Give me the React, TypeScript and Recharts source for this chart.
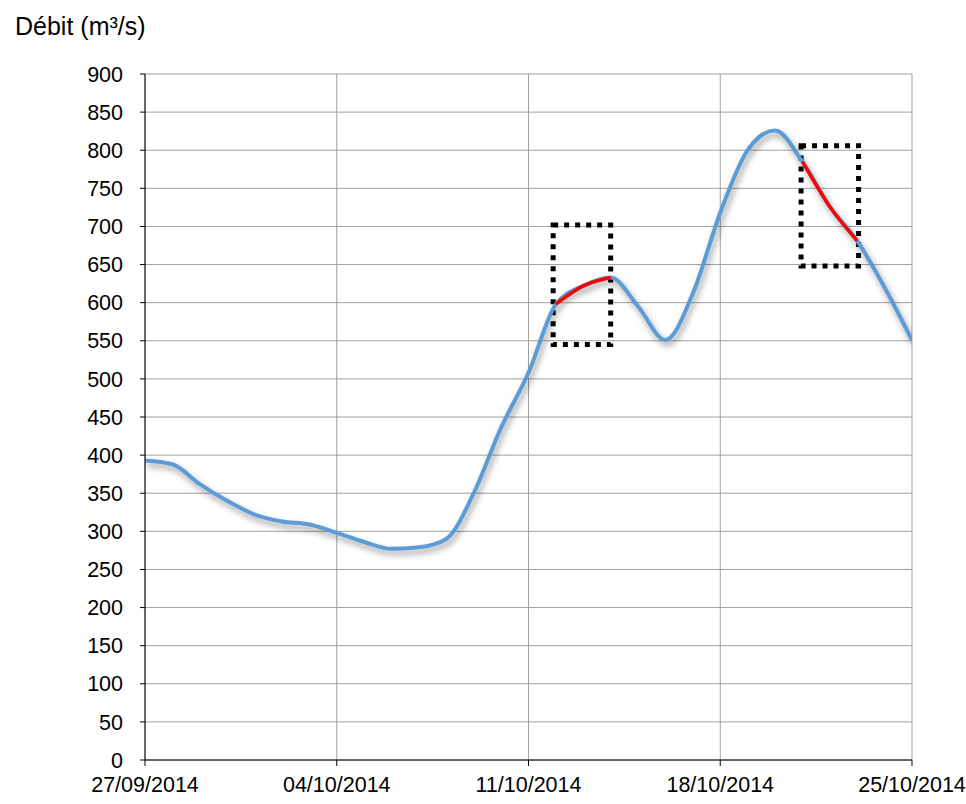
import React from "react";
import {
  LineChart,
  Line,
  XAxis,
  YAxis,
  CartesianGrid,
  ReferenceArea,
} from "recharts";

// Daily river flow, 27/09/2014 → 25/10/2014 (m3/s)
const dates = [
  "27/09/2014", "28/09/2014", "29/09/2014", "30/09/2014", "01/10/2014",
  "02/10/2014", "03/10/2014", "04/10/2014", "05/10/2014", "06/10/2014",
  "07/10/2014", "08/10/2014", "09/10/2014", "10/10/2014", "11/10/2014",
  "12/10/2014", "13/10/2014", "14/10/2014", "15/10/2014", "16/10/2014",
  "17/10/2014", "18/10/2014", "19/10/2014", "20/10/2014", "21/10/2014",
  "22/10/2014", "23/10/2014", "24/10/2014", "25/10/2014",
];

const flow = [
  393, 388, 362, 340, 322, 313, 309, 298, 286, 277,
  279, 290, 350, 436, 508, 598, 622, 633, 595, 551,
  612, 718, 800, 826, 785, 726, 681, 620, 551,
];

// day-index ranges drawn in red
const highlightRanges = [
  [15, 17],
  [24, 26],
];

// dotted frames around the highlighted stretches (day index / m3/s)
const frames = [
  { x1: 14.9, x2: 17, y1: 545, y2: 702 },
  { x1: 23.95, x2: 26.05, y1: 648, y2: 806 },
];

const xTicks = [0, 7, 14, 21, 28];
const yTicks = [
  0, 50, 100, 150, 200, 250, 300, 350, 400, 450,
  500, 550, 600, 650, 700, 750, 800, 850, 900,
];

const data = flow.map((v, i) => {
  const row: Record<string, number | string | null> = {
    day: i,
    date: dates[i],
    flow: v,
  };
  highlightRanges.forEach(([a, b], k) => {
    row[`hl${k}`] = i >= a && i <= b ? v : null;
  });
  return row;
});

const FONT = '"Liberation Sans", Arial, sans-serif';
const tickStyle = { fontSize: 21.5, fill: "#000", fontFamily: FONT };

export default function App() {
  return (
    <div
      style={{
        position: "absolute",
        left: 0,
        top: 0,
        width: 966,
        height: 800,
        fontFamily: FONT,
        background: "#fff",
      }}
    >
      <div
        style={{
          position: "absolute",
          left: 15,
          top: 14,
          fontSize: 25,
          lineHeight: "25px",
          color: "#000",
          whiteSpace: "nowrap",
        }}
      >
        Débit (m³/s)
      </div>
      <LineChart
        width={966}
        height={800}
        data={data}
        margin={{ top: 74, right: 54, bottom: 0, left: 0 }}
      >
        <defs>
          <filter id="lineShadow" x="-5%" y="-5%" width="110%" height="120%">
            <feDropShadow
              dx="2"
              dy="4"
              stdDeviation="3"
              floodColor="#000"
              floodOpacity="0.4"
            />
          </filter>
        </defs>
        <CartesianGrid stroke="#a0a0a0" strokeWidth={1} />
        <XAxis
          dataKey="day"
          type="number"
          domain={[0, 28]}
          ticks={xTicks}
          tickFormatter={(d: number) => dates[d]}
          tick={tickStyle}
          tickSize={6}
          tickMargin={11}
          height={40}
          axisLine={{ stroke: "#000" }}
          tickLine={{ stroke: "#000" }}
          interval={0}
          allowDataOverflow
        />
        <YAxis
          type="number"
          domain={[0, 900]}
          ticks={yTicks}
          tick={tickStyle}
          tickSize={5}
          tickMargin={17}
          width={145}
          axisLine={{ stroke: "#000" }}
          tickLine={{ stroke: "#000" }}
          interval={0}
        />
        <Line
          type="monotone"
          dataKey="flow"
          stroke="#5b9bd5"
          strokeWidth={4}
          dot={false}
          activeDot={false}
          filter="url(#lineShadow)"
          isAnimationActive={false}
        />
        {highlightRanges.map((_, k) => (
          <Line
            key={k}
            type="monotone"
            dataKey={`hl${k}`}
            stroke="#ff0000"
            strokeWidth={3.5}
            dot={false}
            activeDot={false}
            connectNulls={false}
            isAnimationActive={false}
          />
        ))}
        {frames.map((f, k) => (
          <ReferenceArea
            key={k}
            x1={f.x1}
            x2={f.x2}
            y1={f.y1}
            y2={f.y2}
            fill="none"
            stroke="#000"
            strokeWidth={5}
            strokeDasharray="5 6"
          />
        ))}
      </LineChart>
    </div>
  );
}
